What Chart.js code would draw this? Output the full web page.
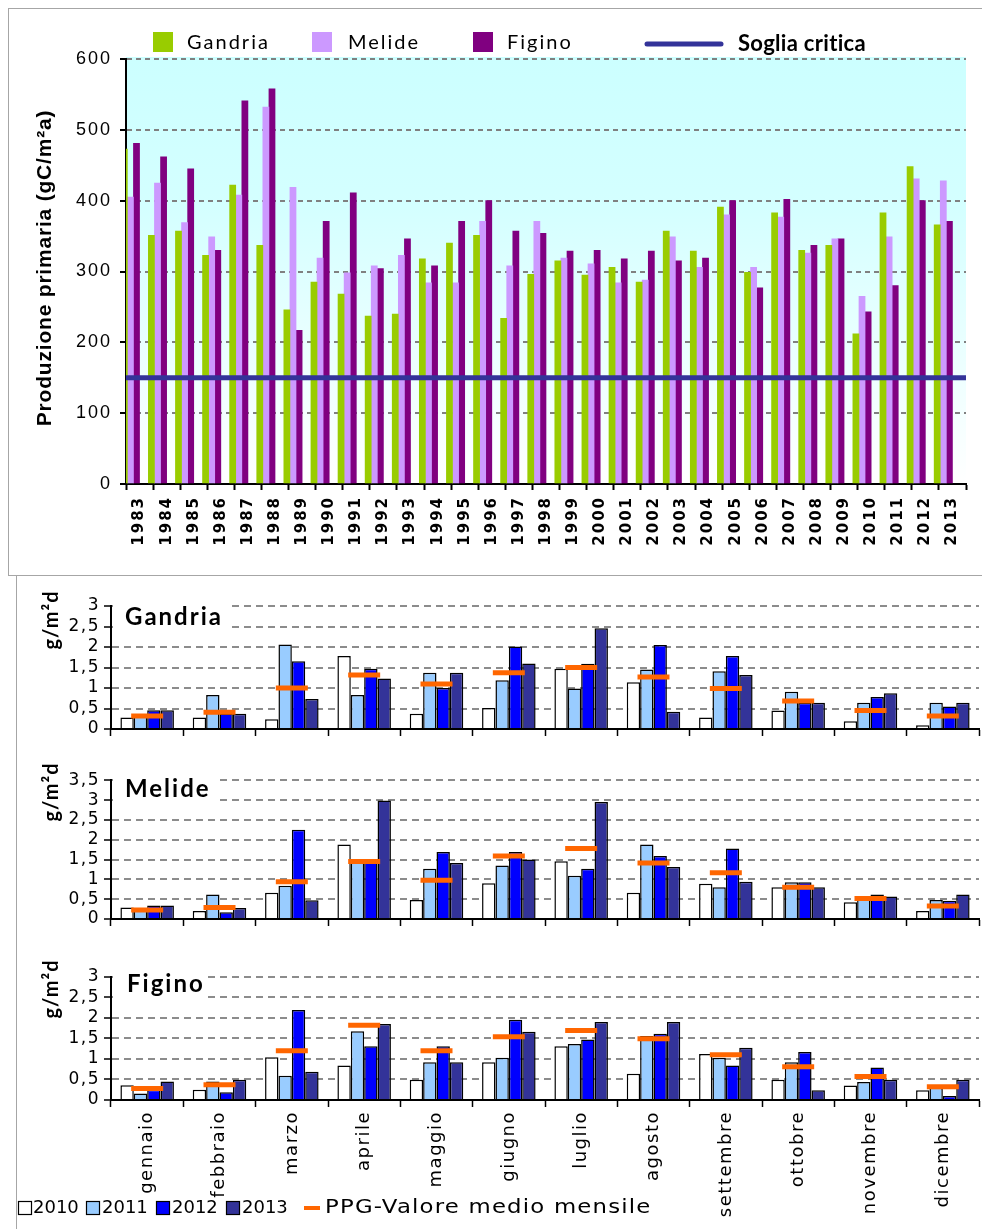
<!DOCTYPE html>
<html><head><meta charset="utf-8">
<script src="https://cdn.jsdelivr.net/npm/chart.js@4.4.0/dist/chart.umd.min.js"></script>
<style>
html,body{margin:0;padding:0;background:#fff;overflow:hidden;width:982px;height:1229px;position:relative;}
canvas{position:absolute;left:0;}
.frame{position:absolute;border:1px solid #a6a6a6;}
</style></head><body>
<div class="frame" style="left:8px;top:8px;width:990px;height:566px;"></div>
<div style="position:absolute;left:16px;top:576px;width:1px;height:660px;background:#a6a6a6;"></div>
<canvas id="top" width="982" height="575" style="top:0"></canvas>
<canvas id="pg" width="1000" height="170" style="top:580px"></canvas>
<canvas id="pm" width="1000" height="190" style="top:750px"></canvas>
<canvas id="pf" width="1000" height="289" style="top:940px"></canvas>
<script>
// ---------- DATA ----------
const years = ['1983','1984','1985','1986','1987','1988','1989','1990','1991','1992','1993','1994','1995','1996','1997','1998','1999','2000','2001','2002','2003','2004','2005','2006','2007','2008','2009','2010','2011','2012','2013'];
const gandria = [473,351,357,323,422,337,246,285,268,237,240,318,340,351,234,296,315,295,306,285,357,329,391,299,383,330,337,212,383,448,366];
const melide  = [405,425,369,349,408,532,419,319,298,308,323,284,284,371,308,371,319,311,284,288,349,306,380,306,377,326,346,265,349,431,428];
const figino  = [481,462,445,330,541,558,217,371,411,304,346,308,371,400,357,354,329,330,318,329,315,319,400,277,402,337,346,243,280,400,371];
const sogliaCritica = 150;

const months = ['gennaio','febbraio','marzo','aprile','maggio','giugno','luglio','agosto','settembre','ottobre','novembre','dicembre'];
const seriesYears = ['2010','2011','2012','2013'];

const gan2010 = [0.28,0.28,0.24,1.78,0.37,0.51,1.47,1.14,0.28,0.45,0.19,0.09];
const gan2011 = [0.32,0.83,2.06,0.83,1.37,1.19,0.99,1.45,1.41,0.91,0.64,0.64];
const gan2012 = [0.46,0.38,1.65,1.47,1.00,2.01,1.59,2.05,1.78,0.64,0.78,0.55];
const gan2013 = [0.46,0.37,0.73,1.23,1.37,1.60,2.46,0.42,1.32,0.64,0.87,0.64];
const ganPPG  = [0.32,0.41,1.00,1.32,1.10,1.37,1.50,1.27,0.99,0.68,0.45,0.32];

const mel2010 = [0.29,0.20,0.66,1.88,0.48,0.90,1.46,0.66,0.89,0.80,0.42,0.20];
const mel2011 = [0.25,0.62,0.84,1.45,1.27,1.35,1.09,1.88,0.80,0.93,0.49,0.48];
const mel2012 = [0.34,0.17,2.25,1.45,1.69,1.69,1.27,1.59,1.78,0.93,0.62,0.46];
const mel2013 = [0.34,0.28,0.47,2.99,1.41,1.50,2.95,1.31,0.94,0.80,0.57,0.62];
const melPPG  = [0.23,0.29,0.94,1.45,0.98,1.59,1.78,1.41,1.17,0.80,0.52,0.33];

const fig2010 = [0.36,0.25,1.04,0.84,0.49,0.92,1.31,0.64,1.12,0.49,0.35,0.24];
const fig2011 = [0.16,0.45,0.59,1.67,0.92,1.03,1.36,1.56,1.03,0.92,0.44,0.30];
const fig2012 = [0.25,0.19,2.19,1.31,1.31,1.95,1.47,1.61,0.84,1.17,0.79,0.10];
const fig2013 = [0.45,0.49,0.69,1.85,0.92,1.66,1.90,1.90,1.27,0.24,0.49,0.49];
const figPPG  = [0.28,0.37,1.20,1.82,1.20,1.54,1.69,1.49,1.10,0.81,0.57,0.32];

// ---------- STYLE ----------
const yearColors = ['#ffffff','#99ccff','#0000ff','#333399'];
const ppgColor = '#ff6600';

const spacing = {
  id:'spacing',
  beforeDraw(chart, a, o){ chart.ctx.letterSpacing = (o.px||0)+'px'; },
  afterDraw(chart){ chart.ctx.letterSpacing = '0px'; }
};

// ---------- TOP CHART ----------
const topDeco = {
  id:'topDeco',
  beforeDraw(chart){
    const {ctx, chartArea:a} = chart;
    const g = ctx.createLinearGradient(0, a.top, 0, a.bottom);
    g.addColorStop(0, '#ccffff');
    g.addColorStop(0.35, '#d4ffff');
    g.addColorStop(1, '#ffffff');
    ctx.save(); ctx.fillStyle = g; ctx.fillRect(a.left, a.top-2, a.right-a.left, a.bottom-a.top+2); ctx.restore();
  },
  afterDraw(chart){
    const ctx = chart.ctx; const ds = chart.data.datasets;
    ctx.save();
    ctx.translate(45, 268); ctx.rotate(-Math.PI/2);
    ctx.font = 'bold 21px "Liberation Sans"'; ctx.letterSpacing='0.8px';
    ctx.fillStyle = '#000'; ctx.textAlign='center'; ctx.textBaseline='middle';
    ctx.fillText('Produzione primaria (gC/m²a)', 0, 0);
    ctx.restore();
    ctx.save();
    const sq = [153, 312, 473], tx = [187, 348, 507];
    ctx.textBaseline = 'middle';
    for (let i=0;i<3;i++){
      ctx.fillStyle = ds[i].backgroundColor; ctx.fillRect(sq[i], 32, 20, 20);
      ctx.fillStyle = '#000'; ctx.font = '20px Lato'; ctx.letterSpacing='2px';
      ctx.fillText(ds[i].label, tx[i], 43);
    }
    ctx.strokeStyle = ds[3].borderColor; ctx.lineWidth = 5; ctx.lineCap='round';
    ctx.beginPath(); ctx.moveTo(647, 44); ctx.lineTo(721, 44); ctx.stroke();
    ctx.font = 'bold 22px Lato'; ctx.letterSpacing='0.3px';
    ctx.fillText(ds[3].label, 738, 44);
    ctx.restore();
  }
};

new Chart(document.getElementById('top'), {
  type:'bar',
  data:{ labels: years, datasets:[
    {label:'Gandria', data:gandria, backgroundColor:'#99cc00', order:1},
    {label:'Melide', data:melide, backgroundColor:'#cc99ff', order:1},
    {label:'Figino', data:figino, backgroundColor:'#800080', order:1},
    {type:'line', label:'Soglia critica', data:[{x:0,y:sogliaCritica},{x:1,y:sogliaCritica}], xAxisID:'xl',
     borderColor:'#333399', borderWidth:5, pointRadius:0, borderCapStyle:'round', order:0}
  ]},
  options:{
    responsive:false, animation:false, events:[],
    datasets:{bar:{barThickness:6.1, categoryPercentage:0.68, barPercentage:1}},
    layout:{padding:{top:59, right:16, left:0, bottom:0}},
    scales:{
      x:{ grid:{offset:true, drawOnChartArea:false, tickLength:6, tickColor:'#000', tickWidth:2},
          border:{color:'#000', width:2},
          ticks:{minRotation:90, maxRotation:90, autoSkip:false, padding:6, color:'#000',
                 font:{family:'DejaVu Sans', weight:'bold', size:15}},
          afterFit(s){ s.height = 91; } },
      xl:{ type:'linear', display:false, min:0, max:1, offset:false, grid:{offset:false} },
      y:{ min:0, max:600,
          ticks:{stepSize:100, padding:8, autoSkip:false, color:'#000', font:{family:'Liberation Sans', size:18}},
          grid:{color:c => c.tick && c.tick.value===0 ? 'rgba(0,0,0,0)' : '#808080', lineWidth:2, tickLength:6, tickColor:'#000', tickWidth:2},
          border:{color:'#000', width:2, dash:[5,4]},
          afterFit(s){ s.width = 126; } }
    },
    plugins:{legend:{display:false}, tooltip:{enabled:false}, spacing:{px:2}}
  },
  plugins:[spacing, topDeco]
});

// ---------- MONTHLY PANELS ----------
const panelDeco = {
  id:'panelDeco',
  afterDatasetsDraw(chart, a, o){
    const ctx = chart.ctx;
    ctx.save();
    ctx.fillStyle = '#fff'; ctx.fillRect(o.box[0], o.box[1], o.box[2], o.box[3]);
    ctx.fillStyle = '#000'; ctx.font = 'bold 24px Lato'; ctx.letterSpacing = '2px';
    ctx.textBaseline = 'alphabetic'; ctx.textAlign='left';
    ctx.fillText(o.title, o.tx, o.ty);
    ctx.translate(52, o.uy); ctx.rotate(-Math.PI/2);
    ctx.font = 'bold 20px Lato'; ctx.letterSpacing = '1px';
    ctx.textAlign = 'center'; ctx.textBaseline = 'middle';
    ctx.fillText('g/m²d', 0, 0);
    ctx.restore();
  },
  afterDraw(chart, a, o){
    if (!o.legend) return;
    const ctx = chart.ctx; const ds = chart.data.datasets;
    ctx.save();
    const sx = [18, 86, 156, 226], tx = [33, 102, 172, 242];
    ctx.font = '18px "DejaVu Sans"'; ctx.letterSpacing='0px'; ctx.textBaseline='middle'; ctx.textAlign='left';
    for (let i=0;i<4;i++){
      ctx.fillStyle = ds[i].backgroundColor; ctx.fillRect(sx[i], 261, 13, 13);
      ctx.strokeStyle = '#000'; ctx.lineWidth = 1.2; ctx.strokeRect(sx[i]+0.5, 261.5, 13, 13);
      ctx.fillStyle = '#000'; ctx.fillText(ds[i].label, tx[i], 268);
    }
    ctx.strokeStyle = ppgColor; ctx.lineWidth = 4;
    ctx.beginPath(); ctx.moveTo(304, 268); ctx.lineTo(320, 268); ctx.stroke();
    ctx.fillStyle = '#000';
    ctx.translate(325, 268); ctx.scale(1.2, 1);
    ctx.font = '19px "DejaVu Sans"'; ctx.letterSpacing='1px';
    ctx.fillText(ds[4].label, 0, 0);
    ctx.restore();
  }
};

function makePanel(id, series, ppg, ymax, plotTop, xH, deco, showLabels){
  const datasets = series.map((s,i)=>({
    label: seriesYears[i], data: s, backgroundColor: yearColors[i],
    borderColor:'#000', borderWidth:1.5, order:1
  }));
  datasets.push({type:'line', label:'PPG-Valore medio mensile', data: ppg, showLine:false,
    pointStyle:'line', pointRadius:16, pointHoverRadius:16, pointBorderWidth:5,
    borderColor: ppgColor, backgroundColor: ppgColor, order:0});
  return new Chart(document.getElementById(id), {
    type:'bar',
    data:{labels: months, datasets},
    options:{
      responsive:false, animation:false, events:[],
      datasets:{bar:{categoryPercentage:0.74, barPercentage:1}},
      layout:{padding:{top:plotTop, right:12, left:0, bottom:0}},
      scales:{
        x:{ grid:{offset:true, drawOnChartArea:false, tickLength:7, tickColor:'#000', tickWidth:1.5},
            border:{color:'#000', width:2},
            ticks:{display:showLabels, minRotation:90, maxRotation:90, autoSkip:false, padding:4, color:'#000',
                   font:{family:'DejaVu Sans', size:18}},
            afterFit(s){ s.height = xH; } },
        y:{ min:0, max:ymax,
            ticks:{stepSize:0.5, autoSkip:false, padding:4, color:'#000', font:{family:'DejaVu Sans', size:17},
                   callback: v => String(v).replace('.', ',')},
            grid:{color:c => c.tick && c.tick.value===0 ? 'rgba(0,0,0,0)' : '#8c8c8c', lineWidth:2, tickLength:7, tickColor:'#000', tickWidth:1.5},
            border:{color:'#000', width:2, dash:[7,5]},
            afterFit(s){ s.width = 111; } }
      },
      plugins:{legend:{display:false}, tooltip:{enabled:false}, spacing:{px:1.5}, panelDeco: deco}
    },
    plugins:[spacing, panelDeco]
  });
}

makePanel('pg', [gan2010,gan2011,gan2012,gan2013], ganPPG, 3, 26, 14.3,
  {box:[113,18,118,42], title:'Gandria', tx:125, ty:45, uy:40}, false);
makePanel('pm', [mel2010,mel2011,mel2012,mel2013], melPPG, 3.5, 30.3, 10.3,
  {box:[113,22,106,40], title:'Melide', tx:125, ty:47, uy:42}, false);
makePanel('pf', [fig2010,fig2011,fig2012,fig2013], figPPG, 3, 36.7, 129,
  {box:[113,25,93,40], title:'Figino', tx:127, ty:52, uy:49, legend:true}, true);
</script>
</body></html>
